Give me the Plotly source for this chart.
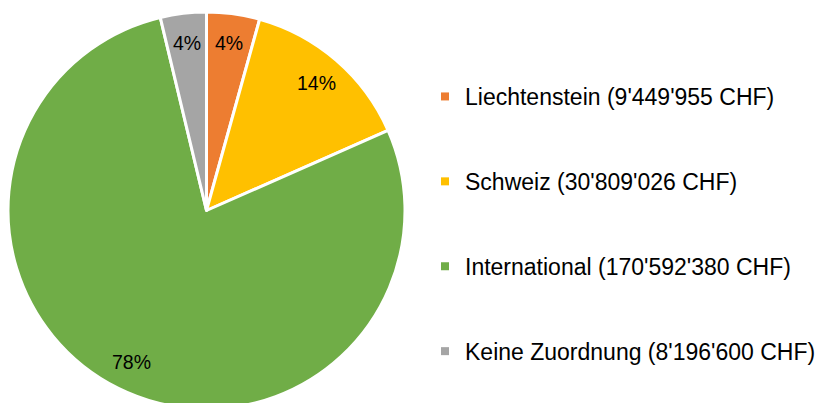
import math
import plotly.graph_objects as go

labels = ["Liechtenstein (9'449'955 CHF)", "Schweiz (30'809'026 CHF)",
          "International (170'592'380 CHF)", "Keine Zuordnung (8'196'600 CHF)"]
values = [9449955, 30809026, 170592380, 8196600]
colors = ["#ED7D31", "#FFC000", "#70AD47", "#A5A5A5"]

W, H = 839, 421
cx, cy, R = 206.5, 210.5, 198.5
FONT = "Liberation Sans, Arial, sans-serif"

fig = go.Figure()
fig.add_trace(go.Pie(
    labels=labels, values=values, sort=False, direction="clockwise", rotation=0,
    marker=dict(colors=colors, line=dict(color="white", width=3)),
    textinfo="none", hoverinfo="label+percent", showlegend=False,
    domain=dict(x=[(cx - R) / W, (cx + R) / W], y=[(H - cy - R) / H, (H - cy + R) / H]),
))

# percentage labels placed at slice mid-angles computed from the data
total = sum(values)
cum = 0.0
k = 0.85
for v in values:
    mid = (cum + v / 2) / total * 2 * math.pi
    cum += v
    px = cx + k * R * math.sin(mid)
    py = cy - k * R * math.cos(mid)
    fig.add_annotation(x=px / W, y=1 - py / H, xref="paper", yref="paper",
                       xanchor="center", yanchor="middle",
                       text=f"{round(v / total * 100)}%", showarrow=False,
                       font=dict(family=FONT, size=19.5, color="#000000"))

# legend entries
for i, (lab, col) in enumerate(zip(labels, colors)):
    fig.add_trace(go.Scatter(x=[None], y=[None], mode="markers", name=lab,
                             legendgroup=str(i),
                             marker=dict(symbol="square", size=8, color=col)))

fig.update_layout(
    width=W, height=H, margin=dict(l=0, r=0, t=0, b=0),
    paper_bgcolor="white", plot_bgcolor="white",
    xaxis=dict(visible=False), yaxis=dict(visible=False),
    legend=dict(x=425 / W, y=1 - 75 / H, xanchor="left", yanchor="top",
                font=dict(family=FONT, size=23, color="#000000"),
                tracegroupgap=52, itemwidth=30, itemsizing="trace",
                bgcolor="rgba(0,0,0,0)"),
)
fig.write_html("out.html")
